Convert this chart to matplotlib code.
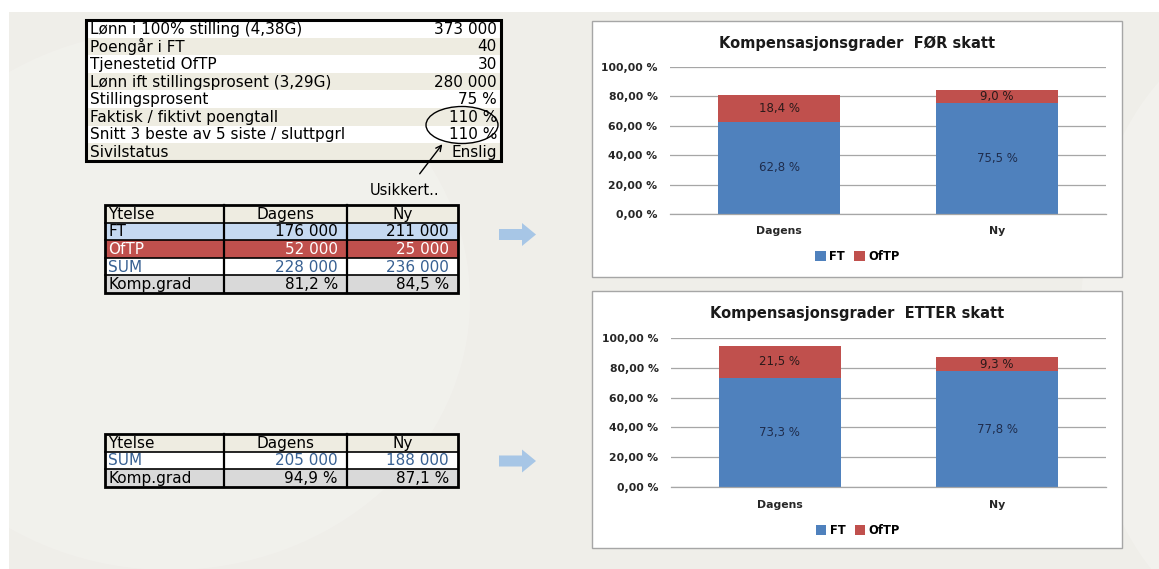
import numpy as np
import matplotlib
matplotlib.use("Agg")
import matplotlib.pyplot as plt
from matplotlib import patches

plt.rcParams['font.family'] = ['DejaVu Sans']

# data
params_labels = ["Lønn i 100% stilling (4,38G)", "Poengår i FT", "Tjenestetid OfTP",
                 "Lønn ift stillingsprosent (3,29G)", "Stillingsprosent",
                 "Faktisk / fiktivt poengtall", "Snitt 3 beste av 5 siste / sluttpgrl",
                 "Sivilstatus"]
params_values = ["373 000", "40", "30", "280 000", "75 %", "110 %", "110 %", "Enslig"]

table_header = ["Ytelse", "Dagens", "Ny"]
for_rows = ["FT", "OfTP", "SUM", "Komp.grad"]
for_dagens = ["176 000", "52 000", "228 000", "81,2 %"]
for_ny = ["211 000", "25 000", "236 000", "84,5 %"]
etter_rows = ["SUM", "Komp.grad"]
etter_dagens = ["205 000", "94,9 %"]
etter_ny = ["188 000", "87,1 %"]

categories = ["Dagens", "Ny"]
ft_for = [62.8, 75.5]
oftp_for = [18.4, 9.0]
ft_etter = [73.3, 77.8]
oftp_etter = [21.5, 9.3]
y_ticks = [0, 20, 40, 60, 80, 100]

W, H = 1159, 569
BLUE = '#4f81bd'
RED = '#c0504d'
BEIGE = '#eeece1'

fig = plt.figure(figsize=(W / 100, H / 100), dpi=100)
fig.patch.set_facecolor('white')

# bakgrunn i pikselkoordinater
bg = fig.add_axes([0, 0, 1, 1])
bg.set_xlim(0, W)
bg.set_ylim(H, 0)
bg.axis('off')
bg.set_zorder(0)

bg.add_patch(patches.Rectangle((9, 12), W, H, color='#efeee9', lw=0))
bg.add_patch(patches.Ellipse((170, 300), 600, 540, color='white', alpha=0.18, lw=0))
bg.add_patch(patches.Ellipse((1260, 330), 360, 600, color='white', alpha=0.2, lw=0))

# parametertabell
x0, x1, y0, rh = 86, 501, 20, 17.6
for i, (lab, val) in enumerate(zip(params_labels, params_values)):
    y = y0 + i * rh
    bg.add_patch(patches.Rectangle((x0, y), x1 - x0, rh, color='white' if i % 2 == 0 else BEIGE, lw=0))
    bg.text(x0 + 4, y + rh / 2 + 0.5, lab, fontsize=11, va='center', ha='left')
    bg.text(x1 - 4, y + rh / 2 + 0.5, val, fontsize=11, va='center', ha='right')
bg.add_patch(patches.Rectangle((x0, y0), x1 - x0, rh * len(params_labels), fill=False, ec='black', lw=2.2))

bg.add_patch(patches.Ellipse((462, 125), 72, 37, fill=False, ec='black', lw=1))
bg.annotate("", xy=(444, 142), xytext=(418, 176),
            arrowprops=dict(arrowstyle='->', lw=1, color='black'))
bg.text(405, 190, "Usikkert..", fontsize=10.5, ha='center', va='center')

row_style = {"FT": ('#c5d9f1', 'black'), "OfTP": (RED, 'white'),
             "SUM": ('white', '#376092'), "Komp.grad": ('#d9d9d9', 'black')}


def draw_table(top, labels, dagens, ny):
    cols = [105, 224, 347, 458]
    rh = 17.6
    rows = [table_header] + [[a, b, c] for a, b, c in zip(labels, dagens, ny)]
    for i, row in enumerate(rows):
        y = top + i * rh
        fill, tc = (BEIGE, 'black') if i == 0 else row_style[row[0]]
        bg.add_patch(patches.Rectangle((cols[0], y), cols[-1] - cols[0], rh, color=fill, lw=0))
        for j, txt in enumerate(row):
            if j == 0:
                bg.text(cols[0] + 3, y + rh / 2 + 0.5, txt, fontsize=11, color=tc, va='center')
            elif i == 0:
                bg.text((cols[j] + cols[j + 1]) / 2, y + rh / 2 + 0.5, txt, fontsize=11,
                        color=tc, va='center', ha='center')
            else:
                bg.text(cols[j + 1] - 9, y + rh / 2 + 0.5, txt, fontsize=11,
                        color=tc, va='center', ha='right')
        if i > 0:
            bg.plot([cols[0], cols[-1]], [y, y], color='black', lw=1.2)
    bottom = top + len(rows) * rh
    for c in cols[1:-1]:
        bg.plot([c, c], [top, bottom], color='black', lw=1.6)
    bg.add_patch(patches.Rectangle((cols[0], top), cols[-1] - cols[0], bottom - top,
                                   fill=False, ec='black', lw=2))


draw_table(205, for_rows, for_dagens, for_ny)
draw_table(434, etter_rows, etter_dagens, etter_ny)

for yc in (234.5, 461):
    bg.add_patch(patches.FancyArrow(499, yc, 23, 0, width=11, head_width=23, head_length=14,
                                    length_includes_head=False, color='#a7c6e6', lw=0))

# diagramrammer
for top, bot in ((21, 277), (291, 548)):
    bg.add_patch(patches.Rectangle((592, top), 1122 - 592, bot - top, fc='white', ec='#a6a6a6', lw=1))


def stacked_chart(rect, ft, oftp, title, title_y):
    ax = fig.add_axes(rect)
    ax.set_zorder(1)
    ax.patch.set_alpha(0)
    x = np.arange(len(categories))
    b1 = ax.bar(x, ft, width=0.56, color=BLUE, label='FT')
    b2 = ax.bar(x, oftp, width=0.56, bottom=ft, color=RED, label='OfTP')
    ax.bar_label(b1, labels=[f"{v:.1f} %".replace('.', ',') for v in ft], label_type='center',
                 fontsize=8.5, color='#1f2d4d')
    ax.bar_label(b2, labels=[f"{v:.1f} %".replace('.', ',') for v in oftp], label_type='center',
                 fontsize=8.5, color='#2a1a1a')
    ax.set_xlim(-0.5, 1.5)
    ax.set_ylim(0, 100)
    ax.set_yticks(y_ticks)
    ax.set_yticklabels([f"{v:.2f} %".replace('.', ',') for v in y_ticks])
    ax.set_xticks(x)
    ax.set_xticklabels(categories)
    for lab in ax.get_xticklabels() + ax.get_yticklabels():
        lab.set_fontweight('bold')
        lab.set_color('#262626')
    ax.tick_params(axis='y', length=0, pad=9, labelsize=7.8)
    ax.tick_params(axis='x', length=0, pad=9, labelsize=7.8)
    ax.yaxis.grid(True, color='#a6a6a6', lw=0.9)
    ax.set_axisbelow(True)
    for s in ('top', 'left', 'right'):
        ax.spines[s].set_visible(False)
    ax.spines['bottom'].set_color('#a6a6a6')
    ax.spines['bottom'].set_linewidth(0.9)
    ax.legend(loc='center', bbox_to_anchor=(0.43, -0.29), ncol=2, frameon=False,
              handlelength=0.9, handleheight=0.9, handletextpad=0.3, columnspacing=0.8,
              prop={'size': 8.3, 'weight': 'bold'})
    bg.text(857, title_y, title, fontsize=10.5, fontweight='bold', ha='center', va='center',
            color='#1a1a1a')
    return ax


stacked_chart([670 / W, 1 - 214 / H, 436 / W, 147 / H], ft_for, oftp_for,
              "Kompensasjonsgrader  FØR skatt", 43)
stacked_chart([671 / W, 1 - 487 / H, 435 / W, 149 / H], ft_etter, oftp_etter,
              "Kompensasjonsgrader  ETTER skatt", 313)

fig.savefig("out.png", dpi=100)
